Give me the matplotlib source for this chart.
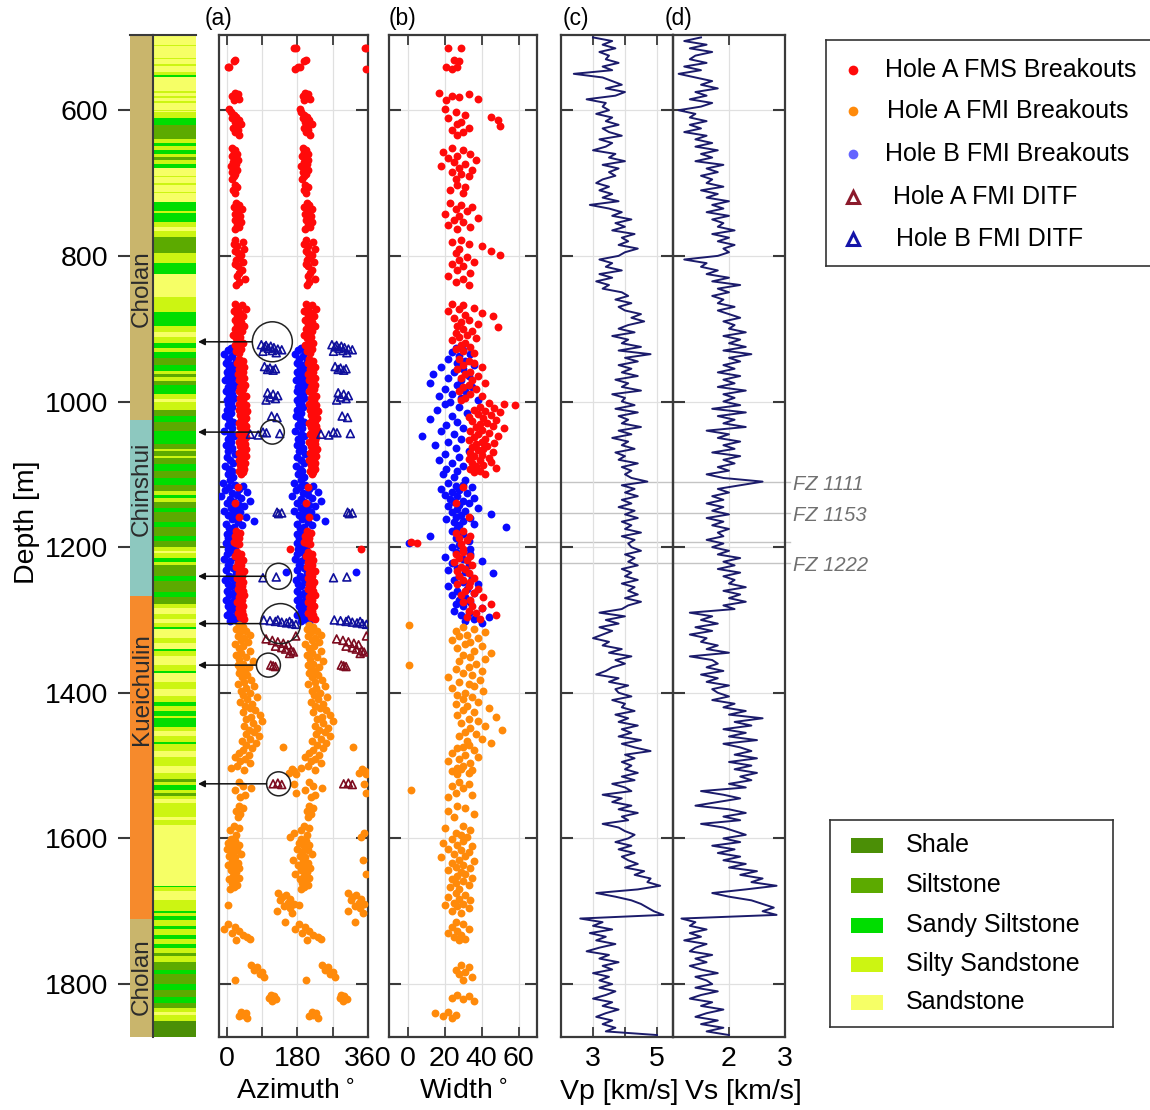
import numpy as np
import matplotlib
matplotlib.use('Agg')
import matplotlib.pyplot as plt
import matplotlib.transforms as mtransforms
from matplotlib.lines import Line2D

plt.rcParams['font.family'] = ['Liberation Sans', 'DejaVu Sans']

# ---------------- data ----------------
depth_ticks = [600, 800, 1000, 1200, 1400, 1600, 1800]

formation_names = ['Cholan', 'Chinshui', 'Kueichulin', 'Cholan']
formation_top = [496, 1026, 1267, 1710]
formation_base = [1026, 1267, 1710, 1872]
formation_label_depth = [845, 1120, 1395, 1790]
formation_colors = ['#c9b56c', '#8dc8bf', '#f68a2c', '#c9b56c']

lith_names = ['Shale', 'Siltstone', 'Sandy Siltstone', 'Silty Sandstone', 'Sandstone']
lith_colors = ['#4b8f06', '#5caa00', '#00dd00', '#ccf512', '#f6ff66']
# (top depth, lithology code) ; each layer runs to the next top
lith_layers = [
    (496, 4), (510, 3), (512, 4), (528, 3), (530, 4), (537, 3), (539, 4), (548, 3), (551, 2), (554, 4),
    (574, 3), (576, 4), (581, 3), (583, 4), (588, 3), (590, 4), (599, 3), (601, 4), (603, 3), (611, 2),
    (620, 1), (640, 3), (645, 2), (649, 3), (654, 2), (660, 3), (664, 1), (668, 3), (674, 2), (680, 4),
    (690, 3), (692, 4), (700, 3), (702, 4), (712, 3), (714, 4), (726, 2), (738, 3), (741, 2), (754, 3),
    (760, 4), (766, 3), (774, 1), (796, 3), (810, 2), (825, 4), (857, 3), (877, 2), (896, 3), (905, 4),
    (912, 3), (920, 2), (926, 3), (932, 2), (940, 1), (950, 2), (958, 3), (962, 1), (966, 3), (972, 1),
    (977, 2), (990, 3), (996, 4), (1000, 3), (1012, 1), (1020, 2), (1028, 1), (1040, 2), (1058, 1), (1065, 3),
    (1068, 1), (1075, 3), (1078, 1), (1086, 2), (1095, 1), (1105, 2), (1115, 1), (1123, 3), (1128, 2), (1133, 3),
    (1138, 1), (1146, 2), (1152, 1), (1165, 2), (1172, 1), (1185, 2), (1192, 1), (1200, 3), (1205, 4), (1208, 3),
    (1215, 2), (1220, 3), (1224, 1), (1240, 2), (1246, 1), (1262, 2), (1268, 1), (1278, 3), (1284, 4), (1292, 3),
    (1298, 4), (1304, 3), (1310, 2), (1313, 4), (1325, 3), (1332, 4), (1340, 2), (1343, 3), (1350, 4), (1362, 3),
    (1370, 2), (1373, 4), (1385, 3), (1395, 4), (1405, 3), (1412, 2), (1418, 3), (1425, 2), (1432, 3), (1435, 2),
    (1447, 3), (1452, 4), (1460, 3), (1468, 2), (1470, 3), (1480, 4), (1488, 3), (1500, 4), (1510, 3), (1518, 1),
    (1522, 3), (1527, 2), (1533, 3), (1538, 1), (1542, 3), (1546, 4), (1552, 3), (1570, 4), (1575, 3), (1582, 4),
    (1665, 2), (1667, 3), (1672, 4), (1685, 3), (1700, 2), (1703, 3), (1707, 2), (1712, 3), (1720, 2), (1724, 3),
    (1732, 2), (1738, 3), (1745, 2), (1750, 3), (1757, 1), (1762, 3), (1770, 1), (1780, 2), (1786, 1), (1800, 2),
    (1808, 1), (1818, 2), (1826, 1), (1833, 3), (1838, 4), (1842, 3), (1851, 0),
]
lith_bottom = 1872

# breakouts: (depth m, azimuth deg, width deg); opposite breakout plotted at azimuth + 180
hole_a_fms = [
    (514, 172, 22), (515, 176, 29), (531, 22, 25), (533, 18, 28), (540, 6, 21), (541, 2, 27), (543, 174, 24),
    (576, 20, 17), (578, 28, 33), (580, 14, 24), (582, 24, 28), (584, 32, 38), (586, 18, 21), (598, 6, 20),
    (603, 10, 26), (606, 18, 31), (609, 24, 45), (611, 14, 22), (614, 30, 49), (616, 20, 29), (619, 36, 27),
    (622, 26, 50), (624, 16, 33), (627, 28, 24), (630, 22, 30), (634, 32, 27),
    (652, 14, 24), (655, 22, 30), (658, 18, 19), (660, 26, 34), (663, 12, 27), (666, 20, 22), (668, 28, 37),
    (671, 16, 25), (674, 24, 31), (676, 10, 18), (679, 20, 28), (682, 26, 35), (685, 14, 24), (688, 22, 29),
    (691, 18, 33), (694, 12, 26), (702, 20, 27), (706, 26, 31), (710, 16, 23), (713, 22, 30),
    (727, 24, 23), (730, 30, 29), (733, 18, 35), (736, 38, 26), (739, 26, 32), (742, 20, 20), (745, 34, 28),
    (748, 28, 38), (751, 22, 25), (754, 36, 30), (757, 26, 22), (760, 32, 34), (763, 20, 27),
    (778, 22, 29), (781, 40, 24), (784, 18, 33), (787, 26, 40), (790, 44, 28), (793, 22, 45), (796, 28, 26),
    (799, 36, 50), (802, 30, 32), (805, 24, 28), (808, 42, 36), (811, 22, 24), (814, 28, 30), (820, 38, 27),
    (824, 32, 34), (828, 26, 22), (832, 46, 30), (836, 30, 26), (840, 24, 33),
    (866, 22, 24), (868, 38, 30), (871, 28, 36), (873, 48, 28), (876, 18, 22), (878, 34, 40), (881, 26, 31),
    (883, 42, 46), (886, 30, 25), (888, 20, 33), (891, 36, 29), (893, 26, 38), (896, 44, 27), (898, 32, 49),
    (901, 22, 30), (903, 38, 35), (906, 28, 26), (908, 16, 32), (911, 34, 28), (913, 24, 37), (916, 30, 24),
    (919, 40, 31), (922, 20, 29), (925, 28, 34), (928, 36, 26), (931, 24, 30), (934, 32, 36),
    (941, 30, 28), (944, 40, 33), (947, 26, 36), (950, 36, 30), (953, 44, 40), (956, 32, 27), (959, 40, 34),
    (962, 28, 31), (965, 36, 38), (968, 44, 29), (971, 30, 35), (974, 38, 42), (977, 46, 33), (980, 34, 30),
    (983, 42, 37), (986, 30, 28), (989, 38, 34), (992, 48, 40), (995, 34, 31), (998, 42, 29),
    (1002, 40, 44), (1003, 30, 52), (1005, 48, 58), (1007, 36, 39), (1009, 44, 47), (1011, 32, 36),
    (1013, 52, 42), (1015, 38, 50), (1017, 46, 38), (1019, 34, 45), (1021, 42, 33), (1023, 50, 41),
    (1025, 36, 48), (1027, 44, 35), (1029, 30, 43), (1031, 40, 39), (1033, 48, 46), (1035, 34, 37),
    (1037, 42, 52), (1039, 50, 40), (1041, 38, 34), (1043, 46, 44), (1045, 32, 38), (1047, 40, 49),
    (1049, 48, 36), (1051, 36, 42), (1053, 44, 33), (1055, 30, 40), (1057, 40, 47), (1059, 46, 37),
    (1061, 34, 43), (1063, 42, 35), (1065, 50, 41), (1067, 38, 38), (1069, 44, 46), (1071, 32, 34),
    (1073, 40, 40), (1075, 48, 36), (1077, 36, 44), (1079, 42, 33), (1081, 30, 39), (1083, 40, 45),
    (1085, 46, 35), (1087, 34, 41), (1089, 42, 37), (1091, 38, 48), (1093, 44, 34), (1095, 32, 39),
    (1097, 40, 36), (1100, 36, 42),
    (1118, 28, 30), (1140, 22, 26), (1158, 30, 33),
    (1178, 24, 30), (1181, 34, 26), (1184, 20, 34), (1187, 30, 28), (1190, 26, 32), (1193, 18, 2),
    (1194, 24, 5), (1196, 32, 29), (1203, 162, 30),
    (1206, 26, 30), (1209, 36, 26), (1212, 22, 34), (1215, 32, 28), (1218, 40, 32), (1221, 28, 25),
    (1224, 36, 35), (1227, 24, 29), (1230, 34, 31), (1233, 44, 27), (1236, 30, 33), (1239, 38, 28),
    (1242, 26, 36), (1245, 36, 30), (1248, 42, 34), (1251, 30, 27), (1254, 38, 33), (1257, 28, 38),
    (1260, 40, 31), (1263, 34, 36), (1266, 44, 29), (1269, 30, 41), (1272, 38, 34), (1275, 26, 30),
    (1278, 36, 45), (1281, 42, 35), (1284, 32, 40), (1287, 38, 33), (1290, 28, 37), (1293, 40, 48),
    (1296, 34, 32), (1299, 44, 39),
]

hole_b_fmi = [
    (926, 10, 26), (929, 2, 30), (932, 20, 24), (935, -6, 34), (938, 14, 28), (941, 4, 22), (944, 24, 31),
    (947, -2, 27), (950, 12, 36), (953, 6, 18), (956, 18, 30),
    (959, 0, 25), (962, 10, 14), (965, 4, 33), (968, 16, 22), (971, -4, 29), (974, 8, 12), (977, 20, 27),
    (980, 2, 35), (983, 12, 20), (986, -2, 31), (989, 14, 24), (992, 6, 17), (995, 18, 29), (998, 0, 38),
    (1001, 10, 23),
    (1004, 4, 20), (1008, 14, 28), (1012, 0, 16), (1016, 10, 32), (1020, -4, 24), (1024, 6, 12),
    (1028, 16, 27), (1032, 2, 21), (1036, 12, 30), (1040, -6, 18), (1044, 8, 25), (1048, 18, 8),
    (1052, 2, 29), (1056, 10, 22), (1060, -2, 15), (1064, 14, 26), (1068, 4, 33), (1072, 20, 20),
    (1076, 0, 28), (1080, 8, 17), (1084, 16, 24), (1088, -4, 30), (1092, 6, 21), (1096, 12, 27),
    (1100, 2, 19), (1104, 16, 25), (1108, 8, 31),
    (1112, -10, 22), (1114, 20, 30), (1116, 40, 26), (1118, 6, 35), (1120, 30, 18), (1122, -4, 28),
    (1124, 52, 24), (1126, 14, 32), (1128, 26, 20), (1130, -14, 27), (1132, 36, 36), (1134, 8, 23),
    (1136, 60, 30), (1138, 18, 25), (1140, 0, 33), (1142, 30, 28), (1144, 44, 22), (1146, 10, 38),
    (1148, 24, 27), (1150, -8, 31), (1152, 34, 24), (1154, 16, 45), (1156, 4, 29), (1158, 48, 26),
    (1160, 22, 34), (1162, 12, 21), (1164, 70, 30), (1166, 28, 25), (1168, -2, 36), (1170, 38, 28),
    (1172, 18, 53), (1174, 6, 27),
    (1178, 10, 24), (1182, 0, 30), (1185, 14, 12), (1188, 4, 26), (1191, 18, 33), (1194, -2, 1),
    (1197, 8, 28), (1200, 22, 24), (1203, 2, 34),
    (1207, 12, 26), (1210, 0, 34), (1213, 20, 20), (1216, -6, 30), (1219, 8, 40), (1222, 28, 24),
    (1225, 4, 33), (1228, 16, 27), (1231, -2, 22), (1234, 150, 31), (1236, 24, 46), (1239, 6, 28),
    (1242, 14, 35), (1245, -4, 25), (1248, 20, 30), (1251, 2, 38), (1254, 10, 22), (1257, 26, 32),
    (1260, 0, 27), (1263, 16, 36), (1266, 6, 24), (1269, 22, 31), (1272, -2, 28), (1275, 12, 34),
    (1278, 30, 26), (1281, 4, 30), (1284, 18, 40), (1287, 8, 25), (1290, 26, 33), (1293, 0, 29),
    (1296, 14, 44), (1299, 20, 36), (1302, 8, 31), (1304, 30, 40),
]

hole_a_fmi = [
    (1307, 30, 1), (1310, 40, 30), (1312, 24, 36), (1315, 50, 26), (1317, 34, 42), (1320, 60, 32),
    (1322, 28, 28), (1325, 44, 38), (1327, 36, 24), (1330, 54, 34),
    (1333, 20, 31), (1336, 42, 40), (1339, 30, 27), (1342, 60, 36), (1345, 36, 45), (1348, 24, 30),
    (1351, 50, 34), (1354, 32, 42), (1357, 66, 28), (1360, 40, 37), (1362, 28, 1), (1364, 56, 33),
    (1367, 34, 26), (1370, 46, 40),
    (1373, 30, 30), (1376, 52, 35), (1379, 38, 22), (1382, 62, 39), (1385, 44, 28), (1388, 28, 33),
    (1391, 70, 36), (1394, 48, 24), (1397, 36, 41), (1400, 58, 31), (1403, 42, 27), (1406, 76, 35),
    (1409, 52, 30), (1412, 34, 38), (1415, 64, 26), (1418, 46, 32),
    (1421, 58, 44), (1424, 72, 30), (1427, 40, 36), (1430, 84, 27), (1433, 62, 48), (1436, 50, 33),
    (1439, 90, 38), (1442, 66, 29), (1445, 44, 42), (1448, 78, 34), (1451, 56, 51), (1454, 70, 31),
    (1457, 48, 37), (1460, 82, 28), (1463, 60, 40), (1466, 38, 32), (1469, 74, 45),
    (1472, 50, 33), (1474, 143, 30), (1476, 64, 27), (1479, 40, 36), (1482, 30, 24), (1485, 56, 31),
    (1488, 20, 38), (1491, 46, 28), (1494, 34, 22), (1497, 60, 34), (1500, 26, 30), (1503, 10, 27),
    (1506, 44, 35), (1505, 165, 29), (1508, 172, 24), (1510, 158, 33), (1512, 176, 27),
    (1522, 30, 28), (1525, 170, 33), (1528, 40, 24), (1531, 62, 30), (1534, 20, 2), (1537, 176, 26),
    (1540, 46, 35), (1543, 34, 22),
    (1555, 30, 27), (1558, 40, 31), (1562, 24, 22), (1566, 34, 36), (1570, 28, 25), (1583, 18, 30),
    (1586, 30, 20), (1589, 8, 34), (1592, 170, 26), (1595, 24, 29), (1598, 162, 32),
    (1601, 10, 24), (1604, 22, 30), (1606, 4, 19), (1609, 30, 27), (1611, 16, 35), (1614, 0, 22),
    (1616, 26, 29), (1619, 12, 33), (1621, 36, 25), (1624, 6, 31), (1626, 20, 18), (1629, 168, 28),
    (1631, 14, 36), (1634, 28, 24), (1636, 2, 30), (1639, 18, 26), (1641, 32, 34), (1644, 10, 22),
    (1646, 24, 29), (1649, 174, 31), (1651, 16, 27), (1654, 30, 35), (1656, 6, 24), (1659, 20, 30),
    (1661, 12, 26), (1664, 26, 33), (1667, 18, 23), (1670, 8, 28),
    (1675, 130, 26), (1678, 150, 31), (1680, 140, 22), (1683, 162, 28), (1685, 136, 34), (1688, 156, 25),
    (1690, 170, 30), (1693, 146, 27), (1696, 160, 33), (1699, 128, 24), (1702, 166, 29), (1692, 4, 20),
    (1715, 148, 26), (1718, 4, 30), (1721, 20, 24), (1724, -6, 33), (1727, 30, 27), (1730, 12, 22),
    (1733, 40, 29), (1736, 52, 25), (1738, 60, 31), (1740, 24, 28),
    (1774, 62, 29), (1777, 78, 33), (1780, 70, 26), (1783, 90, 31), (1786, 84, 28), (1790, 96, 35),
    (1794, 22, 30),
    (1815, 112, 27), (1817, 120, 33), (1819, 108, 24), (1821, 126, 30), (1823, 116, 36),
    (1838, 36, 22), (1840, 48, 15), (1842, 40, 26), (1844, 30, 19), (1846, 52, 24),
]

# drilling-induced tensile fractures: (depth m, azimuth deg); opposite fracture at azimuth + 180
ditf_b = [
    (922, 88), (923, 100), (924, 112), (925, 96), (926, 120), (927, 106), (928, 130), (929, 140),
    (930, 116), (931, 92), (933, 126),
    (952, 96), (954, 110), (955, 124), (956, 104), (957, 118),
    (988, 104), (990, 118), (992, 130), (994, 110), (996, 124), (998, 100),
    (1020, 114), (1022, 128),
    (1042, 92), (1043, 101), (1044, 135), (1045, 60), (1046, 80),
    (1152, 128), (1153, 140), (1154, 132),
    (1241, 126), (1242, 92),
    (1300, 94), (1301, 110), (1302, 124), (1303, 140), (1304, 152), (1305, 166), (1306, 176),
    (1300, 130), (1302, 160),
]
ditf_a = [
    (1322, 176), (1326, 100), (1328, 116), (1330, 130), (1332, 144), (1334, 156), (1336, 124),
    (1338, 140), (1340, 150), (1342, 164), (1344, 170), (1346, 160),
    (1362, 112), (1363, 118), (1364, 124),
    (1524, 130), (1525, 118), (1526, 140),
]

# sonic logs, 5 m samples from 500 m
vp = [
    3.0, 3.6, 3.3, 3.7, 3.2, 3.5, 3.4, 3.8, 3.3, 3.6, 2.4, 3.3, 3.6, 3.9, 3.4, 4.0, 3.7, 2.8, 3.4, 3.3,
    3.5, 3.1, 3.6, 3.4, 3.8, 3.3, 3.5, 3.9, 3.2, 3.6, 3.4, 3.0, 3.7, 3.5, 4.0, 3.3, 3.8, 3.5, 3.7, 3.3,
    3.1, 3.5, 3.2, 3.6, 3.3, 3.8, 2.9, 3.5, 3.9, 3.6, 4.2, 3.7, 4.0, 3.6, 4.3, 3.9, 4.1, 3.8, 4.4, 4.0,
    3.8, 3.2, 3.6, 3.4, 3.9, 3.2, 3.6, 3.1, 3.5, 3.3, 3.9, 4.1, 3.7, 4.2, 3.8, 4.0, 4.5, 4.2, 4.6, 4.1,
    3.8, 4.3, 3.6, 4.1, 3.9, 4.5, 3.8, 4.8, 4.0, 4.4, 3.8, 4.2, 3.9, 4.4, 3.7, 4.1, 3.9, 4.5, 3.6, 4.0,
    3.9, 4.3, 3.7, 4.4, 3.8, 4.1, 3.9, 4.5, 3.8, 4.2, 3.6, 4.1, 3.9, 4.3, 3.7, 4.0, 3.8, 4.4, 3.9, 4.2,
    4.0, 4.2, 4.7, 3.9, 4.3, 4.0, 4.4, 3.9, 4.2, 3.8, 4.3, 4.0, 4.4, 3.9, 4.2, 4.0, 4.5, 3.9, 4.3, 4.1,
    4.2, 4.5, 4.0, 4.3, 4.1, 4.4, 3.9, 4.2, 4.0, 4.4, 3.9, 4.3, 4.1, 4.4, 4.0, 4.5, 4.1, 3.9, 3.2, 4.0,
    3.4, 3.8, 3.2, 3.6, 3.3, 3.0, 3.5, 3.3, 3.9, 3.5, 4.2, 3.7, 4.0, 3.6, 3.4, 3.1, 3.8, 3.5, 4.1, 3.7,
    3.8, 4.2, 3.6, 4.0, 3.9, 4.3, 3.7, 4.1, 3.8, 4.4, 3.9, 4.2, 3.8, 4.5, 3.9, 4.3, 4.8, 4.0, 4.3, 3.9,
    4.2, 4.0, 4.4, 3.9, 4.3, 3.6, 4.0, 4.2, 3.3, 3.9, 3.6, 4.2, 3.8, 4.4, 3.9, 4.1, 3.3, 3.8, 4.0, 4.3,
    4.1, 3.7, 4.2, 3.8, 4.3, 3.9, 4.1, 4.4, 4.0, 4.6, 4.3, 4.8, 4.7, 5.1, 4.4, 3.1, 3.7, 4.2, 4.5, 4.7,
    4.9, 5.2, 2.6, 3.3, 3.0, 3.6, 2.9, 3.4, 3.1, 3.7, 3.2, 2.8, 3.5, 3.2, 3.8, 3.3, 3.6, 3.0, 3.5, 3.2,
    3.6, 3.2, 3.7, 3.4, 3.0, 3.6, 3.3, 3.8, 3.4, 3.1, 3.6, 3.3, 3.7, 3.4, 5.0,
]
vs = [
    1.5, 1.2, 1.6, 1.3, 1.7, 1.4, 1.3, 1.6, 1.2, 1.5, 1.1, 1.4, 1.7, 1.5, 1.8, 1.4, 1.6, 1.3, 1.7, 1.5,
    1.1, 1.4, 1.3, 1.6, 1.3, 1.5, 1.2, 1.6, 1.4, 1.7, 1.4, 1.8, 1.5, 1.7, 1.4, 1.9, 1.6, 1.8, 1.5, 1.7,
    1.6, 1.9, 1.5, 1.8, 1.6, 2.0, 1.7, 1.9, 1.6, 2.0, 1.7, 1.9, 1.8, 2.1, 1.7, 2.0, 1.8, 2.1, 1.9, 2.0,
    1.8, 1.2, 1.6, 1.5, 1.8, 1.6, 2.0, 1.7, 2.2, 1.8, 2.0, 1.7, 1.9, 1.8, 2.1, 1.8, 2.0, 2.2, 1.9, 2.1,
    2.0, 2.3, 1.9, 2.2, 2.0, 2.3, 1.9, 2.4, 2.0, 2.2, 1.9, 2.1, 1.8, 2.2, 1.9, 2.1, 1.8, 2.3, 1.9, 2.1,
    1.9, 2.2, 1.7, 2.3, 1.8, 2.1, 1.9, 2.3, 1.6, 2.0, 1.8, 2.2, 1.9, 2.1, 1.7, 2.2, 1.9, 2.1, 1.8, 2.0,
    1.6, 1.9, 2.6, 2.2, 1.8, 2.0, 1.7, 1.9, 1.6, 1.9, 1.7, 2.0, 1.6, 1.9, 1.7, 2.0, 1.8, 1.9, 1.6, 1.9,
    1.7, 2.0, 1.8, 2.2, 1.9, 2.1, 1.8, 2.2, 1.9, 2.1, 2.0, 2.3, 1.9, 2.2, 2.0, 2.3, 1.9, 2.1, 1.3, 1.7,
    1.5, 1.8, 1.4, 1.7, 1.3, 1.6, 1.5, 1.8, 1.6, 2.0, 1.3, 1.7, 1.8, 1.6, 1.9, 1.5, 1.8, 1.6, 2.0, 1.7,
    1.8, 2.0, 1.7, 2.1, 1.9, 2.3, 2.0, 2.6, 2.1, 2.4, 1.9, 2.3, 2.0, 2.5, 1.9, 2.2, 2.4, 2.1, 2.5, 2.0,
    2.4, 2.1, 2.5, 2.2, 2.4, 2.0, 2.3, 1.5, 1.9, 2.2, 1.8, 1.4, 2.0, 2.3, 1.9, 2.2, 1.5, 1.9, 2.1, 2.3,
    1.9, 2.2, 1.7, 2.1, 1.8, 2.2, 1.9, 2.3, 2.0, 2.5, 2.2, 2.6, 2.4, 2.85, 2.3, 1.7, 2.0, 2.4, 2.6, 2.8,
    2.6, 2.85, 1.15, 1.4, 1.3, 1.6, 1.3, 1.5, 1.2, 1.6, 1.4, 1.3, 1.7, 1.4, 1.6, 1.3, 1.5, 1.8, 1.4, 1.6,
    1.7, 1.4, 1.8, 1.5, 1.3, 1.7, 1.5, 1.9, 1.6, 1.4, 1.8, 1.5, 1.9, 1.6, 2.0,
]
log_start, log_step = 500, 5

fz_depth = [1111, 1153, 1193, 1222]
fz_labels = ['FZ 1111', 'FZ 1153', '', 'FZ 1222']

# circled DITFs pointed at on the lithology column
circle_depth = [918, 1042, 1240, 1305, 1362, 1525]
circle_az = [116, 116, 132, 137, 106, 132]
circle_radius_px = [20, 12, 13, 20, 12, 12]

legend_labels = ['Hole A FMS Breakouts', 'Hole A FMI Breakouts', 'Hole B FMI Breakouts',
                 'Hole A FMI DITF', 'Hole B FMI DITF']

# ---------------- figure ----------------
W, H = 1150, 1110
fig = plt.figure(figsize=(W / 100, H / 100), dpi=100)


def rect(x0, y0, x1, y1):
    return [x0 / W, 1 - y1 / H, (x1 - x0) / W, (y1 - y0) / H]


TOP, BOT = 34.5, 1036.5
DMIN, DMAX = 496, 1872
spine_col = '#3a3a3a'
FS = 20.5
XLAB_Y = -0.042

ax_form = fig.add_axes(rect(130, TOP, 153, BOT))
ax_lith = fig.add_axes(rect(153, TOP, 196, BOT))
ax_a = fig.add_axes(rect(219, TOP, 368, BOT))
ax_b = fig.add_axes(rect(389, TOP, 537, BOT))
ax_c = fig.add_axes(rect(561, TOP, 673, BOT))
ax_d = fig.add_axes(rect(673, TOP, 785, BOT))

# formation column
ax_form.barh(formation_top, width=1, height=np.subtract(formation_base, formation_top),
             left=0, align='edge', color=formation_colors, linewidth=0)
for name, d in zip(formation_names, formation_label_depth):
    ax_form.text(0.5, d, name, rotation=90, ha='center', va='center', fontsize=17.5, color='#2b2b2b')
ax_form.set_xlim(0, 1)
ax_form.set_ylim(DMAX, DMIN)
ax_form.set_yticks(depth_ticks)
ax_form.set_xticks([])
ax_form.tick_params(axis='y', direction='out', length=8.5, width=1.5, color=spine_col,
                    labelsize=FS, pad=7)
for side in ['left', 'right', 'bottom']:
    ax_form.spines[side].set_visible(False)
ax_form.spines['top'].set_color(spine_col)
ax_form.spines['top'].set_linewidth(1.5)

# lithology column
lith_tops = np.array([t for t, c in lith_layers], dtype=float)
lith_codes = [c for t, c in lith_layers]
lith_thick = np.diff(np.append(lith_tops, lith_bottom))
ax_lith.barh(lith_tops, width=1, height=lith_thick, left=0, align='edge',
             color=[lith_colors[c] for c in lith_codes], linewidth=0)
ax_lith.set_xlim(0, 1)
ax_lith.set_ylim(DMAX, DMIN)
ax_lith.set_xticks([])
ax_lith.set_yticks([])
for side in ['right', 'bottom']:
    ax_lith.spines[side].set_visible(False)
for side in ['top', 'left']:
    ax_lith.spines[side].set_color(spine_col)
    ax_lith.spines[side].set_linewidth(1.5)


def setup_panel(ax, xlim, xticks, xticklabels, xlabel, label_x=0.5):
    ax.set_facecolor('none')
    ax.set_ylim(DMAX, DMIN)
    ax.set_xlim(*xlim)
    ax.set_yticks(depth_ticks)
    ax.set_xticks(xticks)
    ax.set_xticklabels(xticklabels)
    ax.tick_params(axis='y', direction='in', length=8.5, width=1.5, left=True, right=True,
                   labelleft=False, color=spine_col)
    ax.tick_params(axis='x', direction='in', length=7, width=1.3, top=True, bottom=True,
                   labelsize=FS, pad=7, color=spine_col)
    ax.grid(True, color='#e0e0e0', lw=0.9)
    ax.set_axisbelow(True)
    for s in ax.spines.values():
        s.set_color(spine_col)
        s.set_linewidth(1.6)
    ax.set_xlabel(xlabel, fontsize=FS)
    ax.xaxis.set_label_coords(label_x, XLAB_Y)


setup_panel(ax_a, (-20, 360), [0, 90, 180, 270, 360], ['0', '', '180', '', '360'], 'Azimuth$^\\circ$', 0.51)
setup_panel(ax_b, (-10, 70), [0, 20, 40, 60], ['0', '20', '40', '60'], 'Width$^\\circ$', 0.5)
setup_panel(ax_c, (2, 5.5), [3, 4, 5], ['3', '', '5'], 'Vp [km/s]', 0.52)
setup_panel(ax_d, (1, 3), [2, 3], ['2', '3'], 'Vs [km/s]', 0.63)

# breakouts
for rec, col in ((hole_b_fmi, '#0a0aff'), (hole_a_fms, '#ff0a0a'), (hole_a_fmi, '#ff8a0a')):
    d, az, w = np.array(rec, dtype=float).T
    ax_a.scatter(np.r_[az, az + 180], np.r_[d, d], s=32, color=col, lw=0, zorder=3)
    ax_b.scatter(w, d, s=32, color=col, lw=0, zorder=3)

# tensile fractures
for rec, col in ((ditf_b, '#10109c'), (ditf_a, '#7d0b1f')):
    d, az = np.array(rec, dtype=float).T
    ax_a.scatter(np.r_[az, az + 180], np.r_[d, d], marker='^', s=32, facecolors='none',
                 edgecolors=col, linewidths=1.2, zorder=4)

# sonic logs
ax_c.plot(vp, log_start + log_step * np.arange(len(vp)), color='#1b1b6b', lw=1.4, zorder=3)
ax_d.plot(vs, log_start + log_step * np.arange(len(vs)), color='#1b1b6b', lw=1.4, zorder=3)

# fault zones across the panels
trans = mtransforms.blended_transform_factory(fig.transFigure, ax_a.transData)
for d, lab in zip(fz_depth, fz_labels):
    fig.add_artist(Line2D([219 / W, 790 / W], [d, d], transform=trans, color='#c4c4c4', lw=1,
                          zorder=-1))
    if lab:
        ax_a.text(793 / W, d + 3, lab, transform=trans, fontsize=14.5, style='italic',
                  color='#707070', va='center', ha='left', clip_on=False)

# circles and arrows to the lithology column
for d, az, r in zip(circle_depth, circle_az, circle_radius_px):
    ax_a.scatter(az, d, s=(2 * r * 0.72) ** 2, facecolors='none', edgecolors='#222222',
                 linewidths=1.1, zorder=6)
    ax_a.annotate('', xy=(198 / W, d), xycoords=trans, xytext=(az, d), textcoords='data',
                  arrowprops=dict(arrowstyle='-|>', color='#111111', lw=1.1, shrinkA=r * 0.72,
                                  shrinkB=0, mutation_scale=10),
                  annotation_clip=False, zorder=6)

# panel letters and depth label
for x, lab in ((205, '(a)'), (389, '(b)'), (563, '(c)'), (665, '(d)')):
    fig.text(x / W, 1 - 18 / H, lab, fontsize=16.5, ha='left', va='center')
fig.text(27 / W, 1 - 522 / H, 'Depth [m]', rotation=90, fontsize=20.5, ha='center', va='center')

# legend for picks
leg1 = fig.add_axes(rect(826, 40, 1162, 266))
leg1.set_xlim(826, 1162)
leg1.set_ylim(266, 40)
leg1.set_xticks([])
leg1.set_yticks([])
for s in leg1.spines.values():
    s.set_color('#333333')
    s.set_linewidth(1.2)
leg_y = [70, 111, 154, 197, 239]
leg_tx = [885, 887, 885, 893, 896]
leg_style = [dict(marker='o', color='#ff0a0a', ms=7, mec='none'),
             dict(marker='o', color='#ff8a0a', ms=7, mec='none'),
             dict(marker='o', color='#6464ff', ms=7, mec='none'),
             dict(marker='^', mfc='none', mec='#8b1a2b', ms=8, mew=2.2),
             dict(marker='^', mfc='none', mec='#1414a8', ms=8, mew=2.2)]
for y, tx, lab, st in zip(leg_y, leg_tx, legend_labels, leg_style):
    leg1.plot([853], [y], linestyle='none', **st)
    leg1.text(tx, y, lab, fontsize=18, va='center', ha='left')

# legend for lithology
leg2 = fig.add_axes(rect(830, 820, 1113, 1027))
leg2.set_xlim(830, 1113)
leg2.set_ylim(1027, 820)
leg2.set_xticks([])
leg2.set_yticks([])
for s in leg2.spines.values():
    s.set_color('#333333')
    s.set_linewidth(1.2)
leg2_y = [845, 885, 925, 964, 1002]
leg2.barh(leg2_y, width=32, left=851, height=15, color=lith_colors, linewidth=0)
for y, lab in zip(leg2_y, lith_names):
    leg2.text(906, y, lab, fontsize=18, va='center', ha='left')

fig.savefig('out.png', dpi=100)
